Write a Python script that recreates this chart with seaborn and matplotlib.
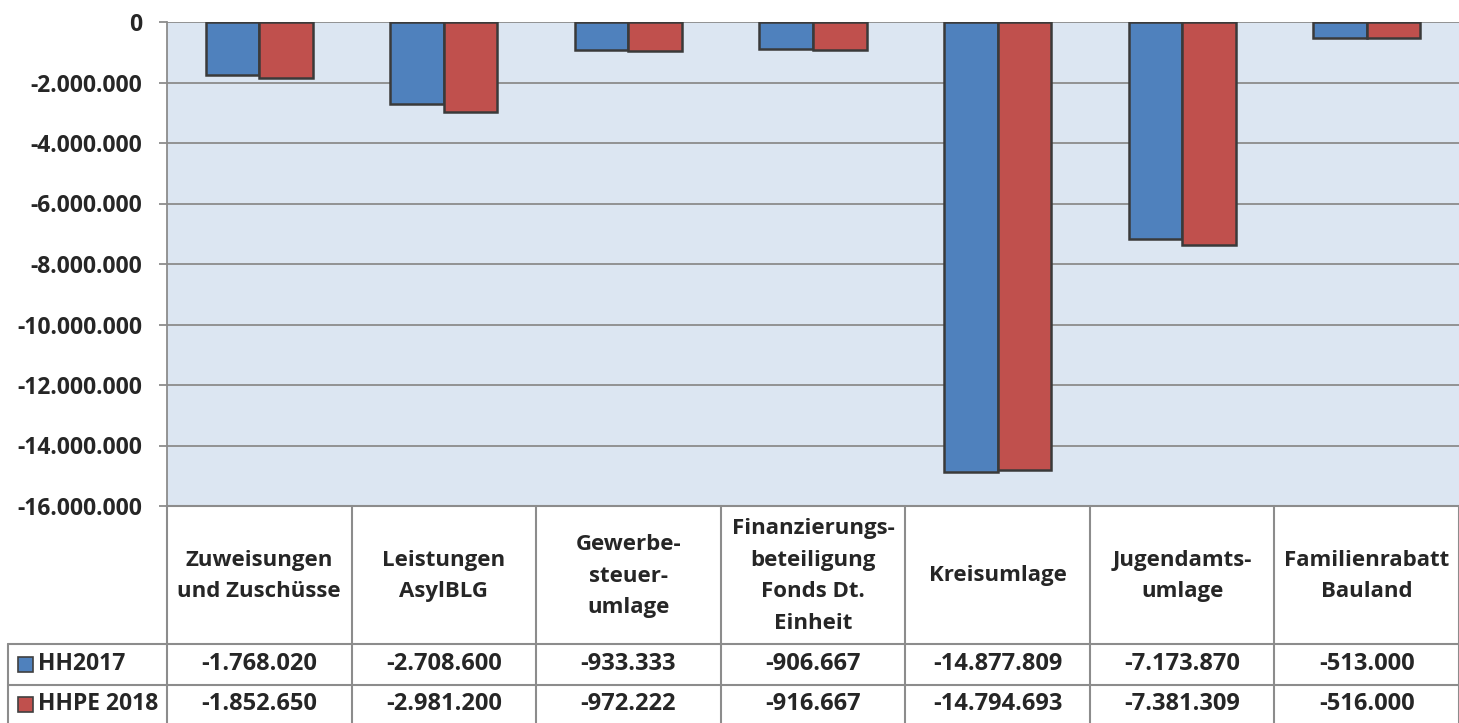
import pandas as pd
import seaborn as sns
import matplotlib.pyplot as plt
from matplotlib.lines import Line2D
from matplotlib.patches import Rectangle

# values (Euro)
categories = ["Zuweisungen\nund Zuschüsse", "Leistungen\nAsylBLG", "Gewerbe-\nsteuer-\numlage",
              "Finanzierungs-\nbeteiligung\nFonds Dt.\nEinheit", "Kreisumlage",
              "Jugendamts-\numlage", "Familienrabatt\nBauland"]
series = ["HH2017", "HHPE 2018"]
hh2017 = [-1768020, -2708600, -933333, -906667, -14877809, -7173870, -513000]
hhpe2018 = [-1852650, -2981200, -972222, -916667, -14794693, -7381309, -516000]
yticks = list(range(-16000000, 1, 2000000))
colors = ["#4F81BD", "#C0504D"]


def de_fmt(v):
    return f"{v:,.0f}".replace(",", ".")


def main():
    df = pd.DataFrame({
        "cat": categories * 2,
        "series": [series[0]] * len(categories) + [series[1]] * len(categories),
        "value": hh2017 + hhpe2018,
    })

    sns.set_style("white")
    plt.rcParams["font.family"] = ["Open Sans", "DejaVu Sans"]
    plt.rcParams["font.weight"] = "bold"

    W, H = 1459, 723
    fig = plt.figure(figsize=(W / 100, H / 100), dpi=100)
    fx = lambda px: px / W
    fy = lambda py: 1 - py / H

    left, right, top, bottom = 167, 1459, 22, 506
    ax = fig.add_axes([fx(left), fy(bottom), fx(right) - fx(left), fy(top) - fy(bottom)])
    ax.set_facecolor("#DCE6F2")

    sns.barplot(data=df, x="cat", y="value", hue="series", palette=colors, width=0.58,
                saturation=1, edgecolor="#3A3A3A", linewidth=1.8, legend=False, ax=ax, zorder=3)

    ax.set_ylim(-16000000, 0)
    ax.set_xlim(-0.5, len(categories) - 0.5)
    ax.set_yticks(yticks)
    ax.set_yticklabels([de_fmt(t) for t in yticks], fontsize=16.5, fontweight="bold")
    ax.set_xticks([])
    ax.set_xlabel("")
    ax.set_ylabel("")
    ax.yaxis.grid(True, color="#8C8C8C", linewidth=1.3, zorder=0)
    ax.set_axisbelow(True)
    ax.tick_params(axis="y", length=6, width=1.3, color="#8C8C8C", pad=12, left=True)
    for s in ["top", "right", "bottom"]:
        ax.spines[s].set_visible(False)
    ax.spines["left"].set_color("#8C8C8C")
    ax.spines["left"].set_linewidth(1.3)

    # data table below the plot
    line_kw = dict(color="#8C8C8C", linewidth=1.5, transform=fig.transFigure)
    col_w = (right - left) / len(categories)
    row1, row2, row_end = 644, 685, 723
    fig.add_artist(Line2D([fx(left), fx(right)], [fy(bottom), fy(bottom)], **line_kw))
    fig.add_artist(Line2D([fx(8), fx(right)], [fy(row1), fy(row1)], **line_kw))
    fig.add_artist(Line2D([fx(8), fx(right)], [fy(row2), fy(row2)], **line_kw))
    fig.add_artist(Line2D([fx(8), fx(8)], [fy(row1), fy(row_end)], **line_kw))
    for i in range(len(categories) + 1):
        x = left + i * col_w
        fig.add_artist(Line2D([fx(x), fx(x)], [fy(bottom), fy(row_end)], **line_kw))

    for i, cat in enumerate(categories):
        cx = fx(left + (i + 0.5) * col_w)
        fig.text(cx, fy((bottom + row1) / 2 + 1), cat, ha="center", va="center",
                 fontsize=16, fontweight="bold", linespacing=1.65)
        fig.text(cx, fy((row1 + row2) / 2), de_fmt(hh2017[i]), ha="center", va="center",
                 fontsize=17, fontweight="bold")
        fig.text(cx, fy((row2 + row_end) / 2), de_fmt(hhpe2018[i]), ha="center", va="center",
                 fontsize=17, fontweight="bold")

    for r, (name, c) in enumerate(zip(series, colors)):
        y0, y1 = [(row1, row2), (row2, row_end)][r]
        cy = (y0 + y1) / 2
        fig.add_artist(Rectangle((fx(18), fy(cy + 7.5)), fx(15), fy(cy - 7.5) - fy(cy + 7.5),
                                 facecolor=c, edgecolor="#404040", linewidth=1.2,
                                 transform=fig.transFigure))
        fig.text(fx(38), fy(cy), name, ha="left", va="center", fontsize=16.5, fontweight="bold")

    fig.savefig("out.png", dpi=100)


if __name__ == "__main__":
    main()
